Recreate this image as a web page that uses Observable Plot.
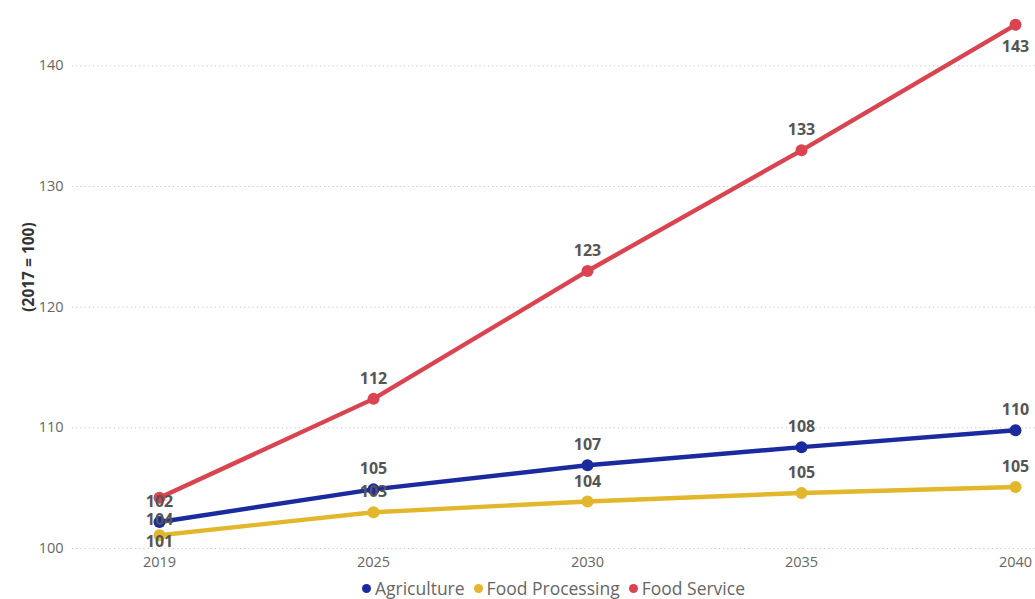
<!DOCTYPE html>
<html>
<head>
<meta charset="utf-8">
<script src="https://cdn.jsdelivr.net/npm/d3@7"></script>
<script src="https://cdn.jsdelivr.net/npm/@observablehq/plot@0.6"></script>
<style>
  html, body { margin: 0; padding: 0; background: #fff; }
  body { width: 1035px; height: 599px; overflow: hidden; font-family: "Segoe UI", "Open Sans", "DejaVu Sans", sans-serif; }
  #chart svg { display: block; }
  .legend { display: flex; justify-content: center; align-items: center; gap: 9px;
            margin-left: 72px; height: 21px; font-size: 17.5px; color: #666; line-height: 21px; }
  .legend .item { display: flex; align-items: center; }
  .legend .dot { width: 9px; height: 9px; border-radius: 50%; margin-right: 4px; display: inline-block; }
</style>
</head>
<body>
<div id="chart"></div>
<div class="legend" id="legend"></div>
<script>
// Employment index by sector, 2017 = 100
const years = ["2019", "2025", "2030", "2035", "2040"];
const seriesNames = ["Agriculture", "Food Processing", "Food Service"];
const agriculture = [102.2, 104.9, 106.9, 108.4, 109.8];
const foodProcessing = [101.1, 103.0, 103.9, 104.6, 105.1];
const foodService = [104.2, 112.4, 123.0, 133.0, 143.4];
const yTicks = [100, 110, 120, 130, 140];
const yTitle = "(2017 = 100)";

const colors = ["#1B2A9E", "#E2B72C", "#DA4450"];

const seriesValues = [agriculture, foodProcessing, foodService];
const rows = seriesNames.flatMap((name, s) =>
  years.map((year, i) => ({series: name, year, value: seriesValues[s][i]}))
);

// Where each value label sits relative to its point
const labelBelow = new Set(["Food Service|2019", "Food Service|2040"]);
const labelNear = new Set(["Food Processing|2019"]);
const key = d => `${d.series}|${d.year}`;
const fmt = d3.format(".0f");

const labelStyle = {
  x: "year", y: "value", text: d => fmt(d.value),
  fill: "#555", fontSize: 16, fontWeight: "bold"
};

const chart = Plot.plot({
  width: 1035,
  height: 578,
  marginLeft: 72,
  marginRight: 0,
  marginTop: 5,
  marginBottom: 30,
  style: {fontFamily: "'Segoe UI', 'Open Sans', 'DejaVu Sans', sans-serif", color: "#666", background: "#fff"},
  x: {type: "point", domain: years, padding: 0, insetLeft: 86, insetRight: 19},
  y: {domain: [100, 145]},
  color: {domain: seriesNames, range: colors},
  marks: [
    Plot.gridY(yTicks, {stroke: "#c8c8c8", strokeOpacity: 1, strokeDasharray: "1.2,3"}),
    Plot.axisY(yTicks, {tickSize: 0, tickPadding: 9, fontSize: 14.5, fill: "#666",
      label: yTitle, labelAnchor: "center", labelArrow: "none", labelOffset: 50}),
    Plot.axisX({tickSize: 0, tickPadding: 8, fontSize: 14.5, fill: "#666", label: null}),
    Plot.line(rows, {x: "year", y: "value", z: "series", stroke: "series", strokeWidth: 4.4, strokeLinejoin: "round"}),
    Plot.dot(rows, {x: "year", y: "value", fill: "series", r: 6}),
    Plot.text(rows.filter(d => !labelBelow.has(key(d)) && !labelNear.has(key(d))), {...labelStyle, dy: -20}),
    Plot.text(rows.filter(d => labelBelow.has(key(d))), {...labelStyle, dy: 22}),
    Plot.text(rows.filter(d => labelNear.has(key(d))), {...labelStyle, dy: 7})
  ]
});

// Bold, darker y-axis title, sitting a little above the frame's middle
d3.select(chart).selectAll('[aria-label="y-axis label"] text')
  .attr("font-weight", "bold").attr("font-size", 15.5).attr("fill", "#333").attr("dx", 10);

document.getElementById("chart").appendChild(chart);

const legend = d3.select("#legend");
seriesNames.forEach((name, i) => {
  const item = legend.append("span").attr("class", "item");
  item.append("span").attr("class", "dot").style("background", colors[i]);
  item.append("span").text(name);
});
</script>
</body>
</html>
